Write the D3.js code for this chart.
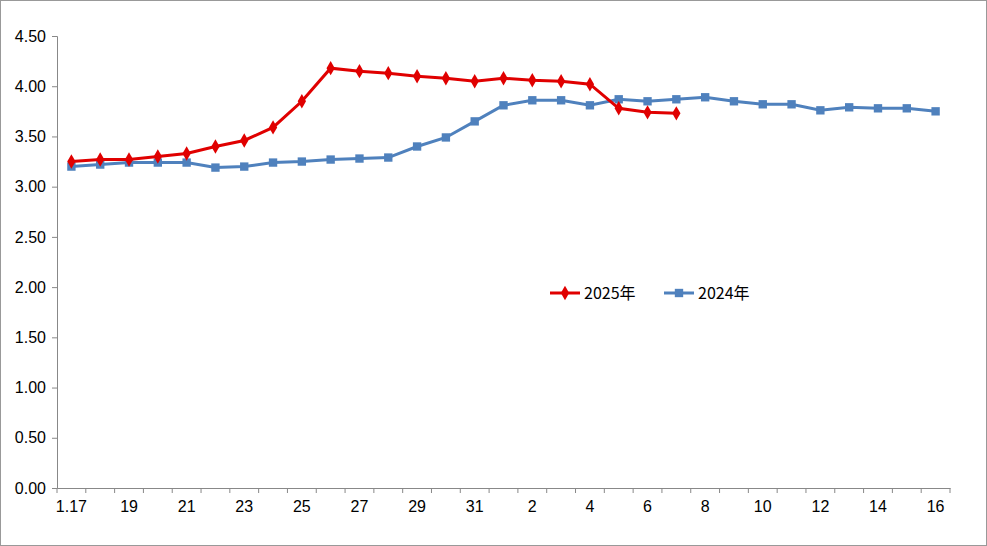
<!DOCTYPE html>
<html><head><meta charset="utf-8">
<script src="https://cdn.jsdelivr.net/npm/d3@7"></script>
<style>body{margin:0;background:#fff}svg{display:block;font-family:"Noto Sans CJK SC","Noto Sans",sans-serif}</style>
</head><body>
<script>
const categories = ["1.17","18","19","20","21","22","23","24","25","26","27","28","29","30","31","1","2","3","4","5","6","7","8","9","10","11","12","13","14","15","16"];
const tickLabels = ["1.17","19","21","23","25","27","29","31","2","4","6","8","10","12","14","16"];
const s2025 = [3.25,3.27,3.27,3.30,3.33,3.40,3.46,3.59,3.85,4.18,4.15,4.13,4.10,4.08,4.05,4.08,4.06,4.05,4.02,3.78,3.74,3.73];
const s2024 = [3.20,3.22,3.24,3.24,3.24,3.19,3.20,3.24,3.25,3.27,3.28,3.29,3.40,3.49,3.65,3.81,3.86,3.86,3.81,3.87,3.85,3.87,3.89,3.85,3.82,3.82,3.76,3.79,3.78,3.78,3.75];
const yTicks = [0,0.5,1,1.5,2,2.5,3,3.5,4,4.5];

const W=987,H=546;
const svg=d3.select("body").append("svg").attr("width",W).attr("height",H);
svg.append("rect").attr("x",0.5).attr("y",0.5).attr("width",W-1).attr("height",H-1).attr("fill","#fff").attr("stroke","#999");
const L=57,R=950,T=36,B=488;
const x=d3.scaleBand().domain(categories).range([L,R]);
const y=d3.scaleLinear().domain([0,4.5]).range([B,T]);
const ax=svg.append("g").attr("transform",`translate(0,${B})`)
 .call(d3.axisBottom(x).tickSize(0).tickFormat(d=>tickLabels.includes(d)&&(categories.indexOf(d)%2===0)?d:""));
ax.select(".domain").attr("stroke","#888");
ax.selectAll("text").attr("font-size",16).attr("fill","#000").attr("dy","1.3em");
// ticks between categories
svg.append("g").selectAll("line").data(d3.range(categories.length+1)).join("line")
 .attr("x1",i=>L+i*x.bandwidth()).attr("x2",i=>L+i*x.bandwidth()).attr("y1",B).attr("y2",B+5).attr("stroke","#888");
const ay=svg.append("g").attr("transform",`translate(${L},0)`)
 .call(d3.axisLeft(y).tickValues(yTicks).tickSize(5).tickFormat(d3.format(".2f")));
ay.select(".domain").attr("stroke","#888");ay.selectAll("line").attr("stroke","#888");
ay.selectAll("text").attr("font-size",16).attr("fill","#000").attr("x",-11);
const cx=(d,i)=>x(categories[i])+x.bandwidth()/2;
const line=d3.line().x(cx).y(d=>y(d));
function series(data,color,shape){
 svg.append("path").datum(data).attr("d",line).attr("fill","none").attr("stroke",color).attr("stroke-width",3);
 svg.append("g").selectAll("path").data(data).join("path")
  .attr("transform",(d,i)=>`translate(${cx(d,i)},${y(d)})`)
  .attr("d",d3.symbol(shape,shape===d3.symbolDiamond?60:70)()).attr("fill",color);
}
series(s2024,"#4F81BD",d3.symbolSquare);
series(s2025,"#E00000",d3.symbolDiamond);
function leg(x0,color,shape,label){
 svg.append("line").attr("x1",x0).attr("x2",x0+30).attr("y1",293).attr("y2",293).attr("stroke",color).attr("stroke-width",3);
 svg.append("path").attr("transform",`translate(${x0+15},293)`).attr("d",d3.symbol(shape,shape===d3.symbolDiamond?60:70)()).attr("fill",color);
 svg.append("text").attr("x",x0+34).attr("y",299).attr("font-size",16).text(label);
}
leg(550,"#E00000",d3.symbolDiamond,"2025年");
leg(664,"#4F81BD",d3.symbolSquare,"2024年");
</script>
</body></html>
